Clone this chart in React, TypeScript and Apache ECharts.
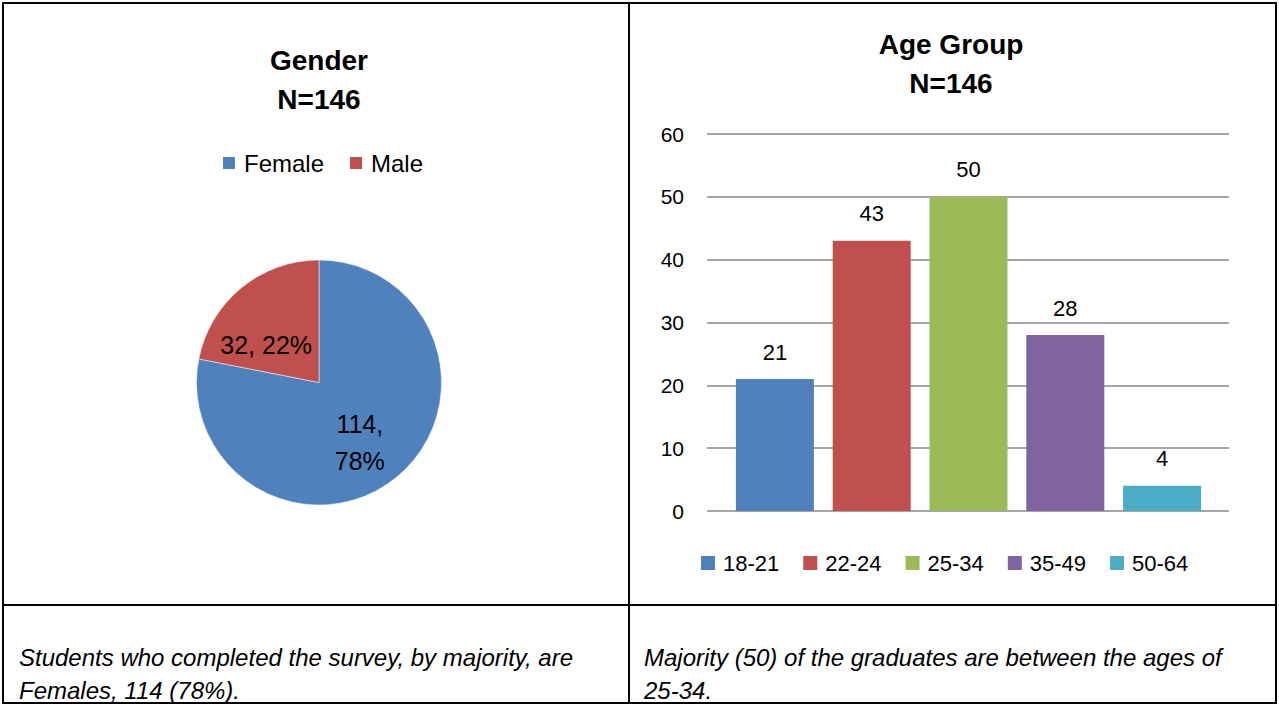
import React, { useEffect, useRef } from "react";
import * as echarts from "echarts";

const genders = ["Female", "Male"];
const genderCounts = [114, 32];

const ageGroups = ["18-21", "22-24", "25-34", "35-49", "50-64"];
const ageCounts = [21, 43, 50, 28, 4];

const yTicks = { min: 0, max: 60, interval: 10 };

const genderTitle = "Gender\nN=146";
const ageTitle = "Age Group\nN=146";
const genderNote = ["Students who completed the survey, by majority, are", "Females, 114 (78%)."];
const ageNote = ["Majority (50) of the graduates are between the ages of", "25-34."];

const pieColors = ["#4F81BD", "#C0504D"];
const barColors = ["#4F81BD", "#C0504D", "#9BBB59", "#8064A2", "#4BACC6"];

const FONT = '"Liberation Sans", Arial, sans-serif';

export default function App() {
  const ref = useRef<HTMLDivElement>(null);

  useEffect(() => {
    if (!ref.current) return;
    const chart = echarts.init(ref.current, undefined, { renderer: "svg" });

    const pieLabelOffsets = [
      [0, 10],
      [-12, 12],
    ];

    const line = (x1: number, y1: number, x2: number, y2: number, w = 2) => ({
      type: "line",
      shape: { x1, y1, x2, y2 },
      style: { stroke: "#000", lineWidth: w },
      silent: true,
    });

    const option: any = {
      animation: false,
      textStyle: { fontFamily: FONT, color: "#000" },
      graphic: [
        line(2, 3, 1277, 3),
        line(3, 2, 3, 704),
        line(1276, 2, 1276, 704),
        line(2, 703, 1277, 703),
        line(629, 2, 629, 704),
        line(2, 605, 1277, 605),
        {
          type: "text",
          x: 319,
          y: 80,
          style: {
            text: genderTitle,
            textAlign: "center",
            textVerticalAlign: "middle",
            font: `bold 28px ${FONT}`,
            lineHeight: 39,
            fill: "#000",
          },
        },
        {
          type: "text",
          x: 951,
          y: 64,
          style: {
            text: ageTitle,
            textAlign: "center",
            textVerticalAlign: "middle",
            font: `bold 28px ${FONT}`,
            lineHeight: 39,
            fill: "#000",
          },
        },
        ...genderNote.map((t, i) => ({
          type: "text",
          x: 19,
          y: 657 + i * 33,
          style: {
            text: t,
            textAlign: "left",
            textVerticalAlign: "middle",
            font: `italic 24px ${FONT}`,
            fill: "#000",
          },
        })),
        ...ageNote.map((t, i) => ({
          type: "text",
          x: 644,
          y: 657 + i * 33,
          style: {
            text: t,
            textAlign: "left",
            textVerticalAlign: "middle",
            font: `italic 24px ${FONT}`,
            fill: "#000",
          },
        })),
      ],
      legend: [
        {
          data: genders,
          left: 221,
          top: 151,
          padding: 0,
          icon: "rect",
          itemWidth: 14,
          itemHeight: 14,
          itemGap: 24,
          selectedMode: false,
          textStyle: { fontSize: 24, color: "#000", fontFamily: FONT, padding: [0, 0, 0, 3] },
        },
        {
          data: ageGroups,
          left: 701,
          top: 552,
          padding: 0,
          icon: "rect",
          itemWidth: 14,
          itemHeight: 14,
          itemGap: 24,
          selectedMode: false,
          textStyle: { fontSize: 22, color: "#000", fontFamily: FONT, padding: [0, 0, 0, 3] },
        },
      ],
      grid: [
        { left: 707, top: 134, width: 522, height: 377 },
        { left: 726.5, top: 134, width: 484, height: 377 },
      ],
      xAxis: [
        { gridIndex: 0, type: "category", data: ageGroups, show: false },
        { gridIndex: 1, type: "category", data: ageGroups, show: false },
      ],
      yAxis: [
        {
          gridIndex: 0,
          type: "value",
          min: yTicks.min,
          max: yTicks.max,
          interval: yTicks.interval,
          axisLine: { show: false },
          axisTick: { show: false },
          axisLabel: { fontSize: 21, color: "#000", margin: 23, fontFamily: FONT },
          splitLine: { lineStyle: { color: "#878787", width: 1.5 } },
        },
        {
          gridIndex: 1,
          type: "value",
          min: yTicks.min,
          max: yTicks.max,
          interval: yTicks.interval,
          show: false,
          splitLine: { show: false },
        },
      ],
      series: [
        {
          type: "pie",
          center: [319, 382.5],
          radius: 122.5,
          startAngle: 90,
          clockwise: true,
          percentPrecision: 0,
          color: pieColors,
          itemStyle: { borderColor: "#fff", borderWidth: 0.5 },
          label: {
            position: "inside",
            fontSize: 25,
            lineHeight: 37,
            color: "#000",
            fontFamily: FONT,
            formatter: (p: any) =>
              p.dataIndex === 0 ? `${p.value},\n${p.percent}%` : `${p.value}, ${p.percent}%`,
          },
          labelLine: { show: false },
          emphasis: { disabled: true },
          data: genders.map((name, i) => ({
            name,
            value: genderCounts[i],
            label: { offset: pieLabelOffsets[i] },
          })),
        },
        ...ageGroups.map((name, i) => ({
          type: "bar",
          name,
          xAxisIndex: 1,
          yAxisIndex: 1,
          barWidth: 78,
          barGap: "-100%",
          itemStyle: { color: barColors[i] },
          label: {
            show: true,
            position: "top",
            distance: 16,
            fontSize: 22,
            color: "#000",
            fontFamily: FONT,
          },
          data: ageCounts.map((v, j) => (j === i ? v : "-")),
        })),
      ],
    };

    chart.setOption(option);
    return () => chart.dispose();
  }, []);

  return (
    <div
      ref={ref}
      style={{ position: "absolute", left: 0, top: 0, width: 1279, height: 705, background: "#fff" }}
    />
  );
}
